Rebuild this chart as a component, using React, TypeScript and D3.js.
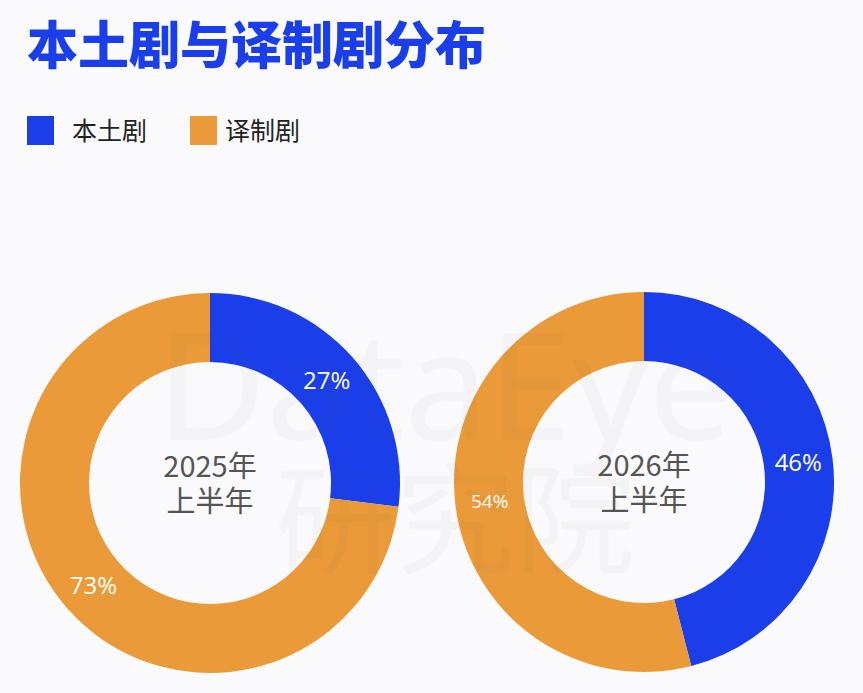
import React from "react";
import * as d3 from "d3";

const categories = ["本土剧", "译制剧"];
const colors = ["#1A3EEA", "#EA9A38"];
const periods = ["2025年", "2026年"];
const periodSub = "上半年";
const values2025 = [27, 73];
const values2026 = [46, 54];
const title = "本土剧与译制剧分布";

const W = 863;
const H = 693;

function Donut({ cx, cy, values, year, labelSizes }: { cx: number; cy: number; values: number[]; year: string; labelSizes: number[] }) {
  const outer = 190;
  const inner = 121;
  const pie = d3.pie<number>().sort(null).value((d) => d);
  const arcs = pie(values);
  const arc = d3.arc<d3.PieArcDatum<number>>().innerRadius(inner).outerRadius(outer);
  const labelArc = d3.arc<d3.PieArcDatum<number>>().innerRadius((inner + outer) / 2).outerRadius((inner + outer) / 2);
  return (
    <g transform={`translate(${cx},${cy})`}>
      {arcs.map((a, i) => (
        <path key={i} d={arc(a) || ""} fill={colors[i]} />
      ))}
      {arcs.map((a, i) => {
        const [x, y] = labelArc.centroid(a);
        return (
          <text key={"l" + i} x={x} y={y} dy="0.35em" textAnchor="middle" fill="#fff" fontSize={labelSizes[i]} fontFamily="'Open Sans', 'Noto Sans', sans-serif">
            {a.data}%
          </text>
        );
      })}
      <text x={0} y={-6} textAnchor="middle" fill="#555" fontSize={29} fontFamily="'Noto Sans CJK SC', 'Noto Sans', sans-serif">
        {year}
      </text>
      <text x={0} y={29} textAnchor="middle" fill="#555" fontSize={29} fontFamily="'Noto Sans CJK SC', 'Noto Sans', sans-serif">
        {periodSub}
      </text>
    </g>
  );
}

export default function App() {
  return (
    <svg width={W} height={H} style={{ position: "absolute", left: 0, top: 0 }} xmlns="http://www.w3.org/2000/svg">
      <rect width={W} height={H} fill="#FAFAFC" />
      <text x={27} y={64} fill="#1A3EEA" fontSize={51} fontWeight={900} fontFamily="'Noto Sans CJK SC', sans-serif">
        {title}
      </text>
      {categories.map((c, i) => {
        const x0 = i === 0 ? 27 : 190;
        const tx = i === 0 ? 72 : 225;
        return (
          <g key={c}>
            <rect x={x0} y={116} width={27} height={29} fill={colors[i]} />
            <text x={tx} y={140} fontSize={25} fill="#222" fontFamily="'Noto Sans CJK SC', sans-serif">
              {c}
            </text>
          </g>
        );
      })}
      <Donut cx={210} cy={483} values={values2025} year={periods[0]} labelSizes={[24, 24]} />
      <Donut cx={644} cy={482} values={values2026} year={periods[1]} labelSizes={[24, 19]} />
      <g opacity={0.03} fill="#556" fontFamily="'Noto Sans', sans-serif">
        <text x={445} y={440} textAnchor="middle" fontSize={150} fontWeight={400}>DataEye</text>
        <text x={455} y={565} textAnchor="middle" fontSize={120} fontWeight={400} fontFamily="'Noto Sans CJK SC', sans-serif">研究院</text>
      </g>
    </svg>
  );
}
